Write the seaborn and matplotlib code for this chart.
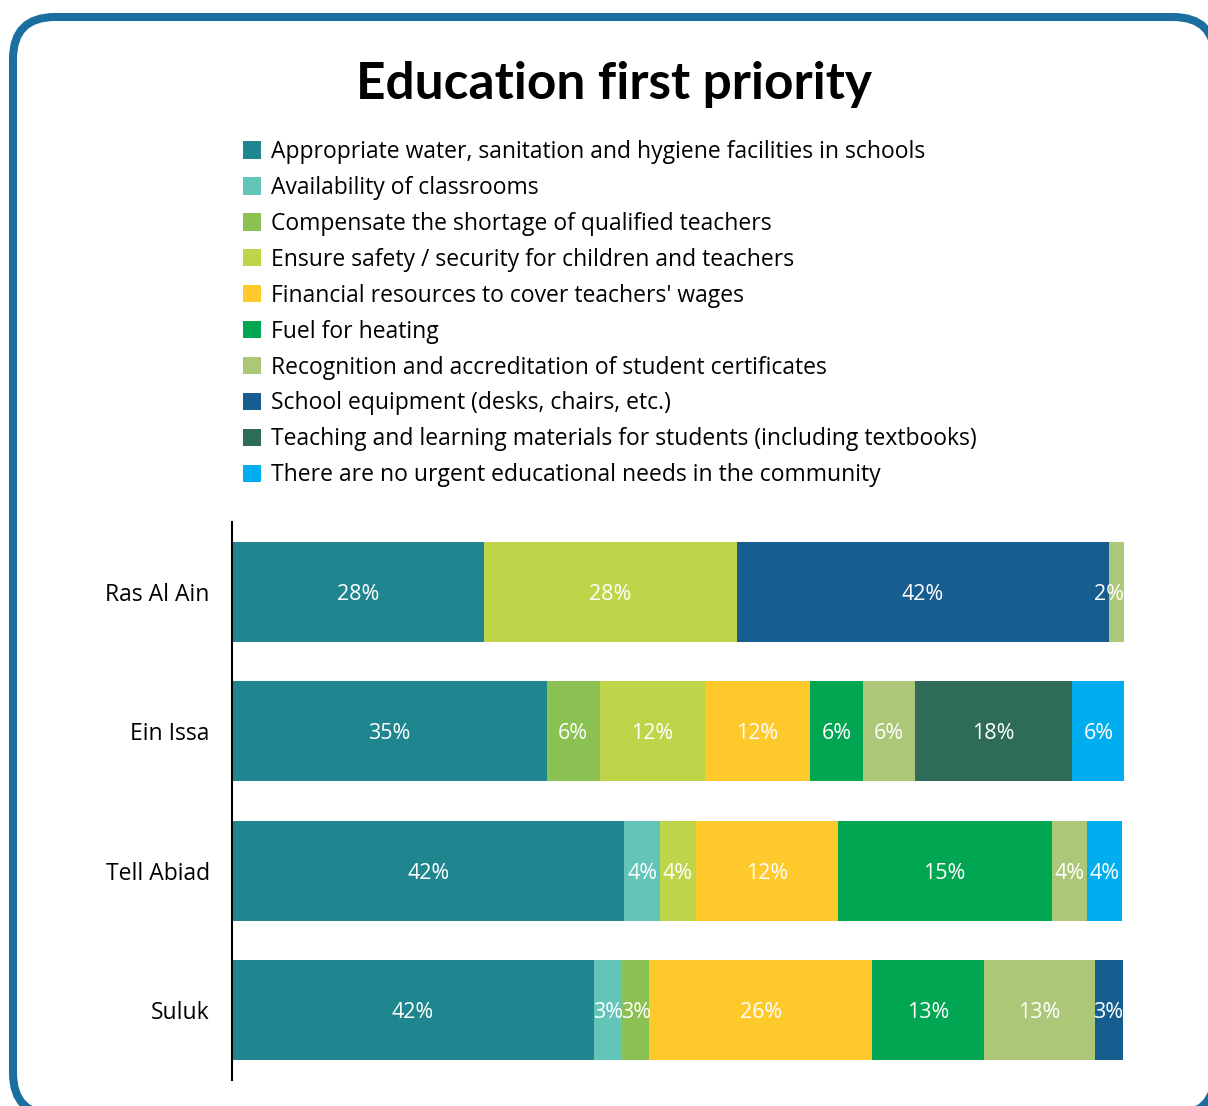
import matplotlib.pyplot as plt
import seaborn as sns
import pandas as pd
from matplotlib.patches import Patch, FancyBboxPatch

sns.set_theme(style="white")
plt.rcParams['font.family'] = ['Open Sans', 'DejaVu Sans']
plt.rcParams['text.color'] = 'black'

# priorities (legend order) and their colours
keys = ["wash", "classrooms", "teachers", "safety", "wages", "fuel",
        "certificates", "equipment", "materials", "no_needs"]
priorities = [
    "Appropriate water, sanitation and hygiene facilities in schools",
    "Availability of classrooms",
    "Compensate the shortage of qualified teachers",
    "Ensure safety / security for children and teachers",
    "Financial resources to cover teachers' wages",
    "Fuel for heating",
    "Recognition and accreditation of student certificates",
    "School equipment (desks, chairs, etc.)",
    "Teaching and learning materials for students (including textbooks)",
    "There are no urgent educational needs in the community",
]
colors = ["#1f868f", "#63c4b8", "#8bc152", "#bfd449", "#fdc92b",
          "#00a651", "#abc777", "#175d8f", "#2e6b58", "#00aeef"]

locations = ["Ras Al Ain", "Ein Issa", "Tell Abiad", "Suluk"]

# segments per location, in drawing order (share = bar width in %, label as printed)
ras_al_ain_parts = ["wash", "safety", "equipment", "certificates"]
ras_al_ain_share = [28.3, 28.3, 41.7, 1.7]
ras_al_ain_labels = ["28%", "28%", "42%", "2%"]

ein_issa_parts = ["wash", "teachers", "safety", "wages", "fuel", "certificates", "materials", "no_needs"]
ein_issa_share = [35.3, 5.9, 11.8, 11.8, 5.9, 5.9, 17.6, 5.9]
ein_issa_labels = ["35%", "6%", "12%", "12%", "6%", "6%", "18%", "6%"]

tell_abiad_parts = ["wash", "classrooms", "safety", "wages", "fuel", "certificates", "no_needs"]
tell_abiad_share = [44.0, 4.0, 4.0, 15.9, 24.0, 4.0, 3.9]
tell_abiad_labels = ["42%", "4%", "4%", "12%", "15%", "4%", "4%"]

suluk_parts = ["wash", "classrooms", "teachers", "wages", "fuel", "certificates", "equipment"]
suluk_share = [40.6, 3.1, 3.1, 25.0, 12.5, 12.5, 3.1]
suluk_labels = ["42%", "3%", "3%", "26%", "13%", "13%", "3%"]

# long table with cumulative ends
rows = []
for loc, parts, share, labels in zip(
        locations,
        [ras_al_ain_parts, ein_issa_parts, tell_abiad_parts, suluk_parts],
        [ras_al_ain_share, ein_issa_share, tell_abiad_share, suluk_share],
        [ras_al_ain_labels, ein_issa_labels, tell_abiad_labels, suluk_labels]):
    end = 0
    for depth, (p, s, lab) in enumerate(zip(parts, share, labels)):
        end += s
        rows.append(dict(location=loc, part=p, depth=depth, share=s, end=end,
                         label=lab, last=(depth == len(parts) - 1)))
df = pd.DataFrame(rows)

palette = dict(zip(keys, colors))

fig = plt.figure(figsize=(12.08, 11.06), dpi=100)
ax = fig.add_axes([232 / 1208, 1 - 1080 / 1106, 892 / 1208, 558 / 1106])

# stacked bars: draw cumulative ends from longest to shortest
for depth in sorted(df["depth"].unique(), reverse=True):
    sub = df[df["depth"] == depth]
    sns.barplot(data=sub, x="end", y="location", hue="part", palette=palette,
                order=locations, dodge=False, orient="y", width=0.714,
                saturation=1, linewidth=0, errorbar=None, legend=False, ax=ax)

# segment labels
for _, r in df.iterrows():
    y = locations.index(r["location"])
    left = r["end"] - r["share"]
    if r["last"] and r["share"] < 3.5:
        ax.text(r["end"], y, r["label"], ha="right", va="center_baseline",
                color="white", fontsize=15.5)
    else:
        ax.text(left + r["share"] / 2, y, r["label"], ha="center", va="center_baseline",
                color="white", fontsize=15.5)

ax.set_xlim(0, 100)
ax.set_ylim(3.5, -0.5)
ax.set_xlabel("")
ax.set_ylabel("")
ax.set_xticks([])
ax.tick_params(axis="y", length=0, pad=16, labelsize=16.5, labelcolor="black")
sns.despine(ax=ax, left=False, bottom=True)
ax.spines["left"].set_color("black")
ax.spines["left"].set_linewidth(1.5)

# title
fig.text(0.508, 1 - 84 / 1106, "Education first priority", ha="center", va="center",
         fontsize=37, fontweight="bold", color="black", family=["Lato", "DejaVu Sans"])

# legend
handles = [Patch(facecolor=c, edgecolor="none") for c in colors]
fig.legend(handles, priorities, loc="upper left",
           bbox_to_anchor=(243 / 1208, 1 - 140 / 1106), frameon=False,
           fontsize=16.5, borderaxespad=0, borderpad=0,
           handlelength=0.79, handleheight=0.79, handletextpad=0.44,
           labelspacing=0.52)

# rounded outer frame (runs off the right and bottom edges); filled white and
# kept behind everything so Agg does not clip its curved corners
frame = FancyBboxPatch((0.13, -0.09), 12.02, 10.98,
                       boxstyle="round,pad=0,rounding_size=0.42",
                       transform=fig.dpi_scale_trans, facecolor="white",
                       edgecolor="#1a6fa0", linewidth=5.8, zorder=-1)
fig.patches.append(frame)

fig.savefig("out.png", dpi=100)
